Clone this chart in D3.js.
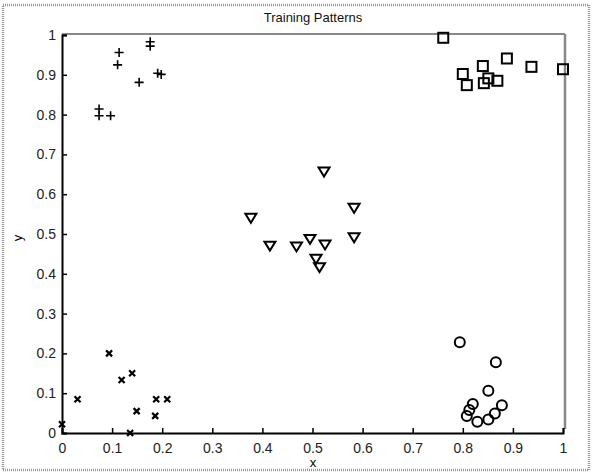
<!DOCTYPE html>
<html><head><meta charset="utf-8">
<script src="https://cdn.jsdelivr.net/npm/d3@7"></script>
<style>body{margin:0;background:#fff}svg{display:block}</style>
</head><body>
<script>
const title = "Training Patterns";
const xTicks = [0,0.1,0.2,0.3,0.4,0.5,0.6,0.7,0.8,0.9,1];
const yTicks = [0,0.1,0.2,0.3,0.4,0.5,0.6,0.7,0.8,0.9,1];
const plusX = [0.074,0.074,0.097,0.114,0.111,0.154,0.176,0.176,0.191,0.198];
const plusY = [0.814,0.797,0.797,0.956,0.925,0.881,0.983,0.972,0.904,0.901];
const squareX = [0.761,0.800,0.808,0.840,0.842,0.851,0.869,0.888,0.937,1.0];
const squareY = [0.993,0.902,0.874,0.922,0.879,0.891,0.885,0.941,0.920,0.914];
const triX = [0.523,0.583,0.377,0.583,0.495,0.415,0.468,0.525,0.507,0.514];
const triY = [0.658,0.567,0.542,0.493,0.489,0.472,0.470,0.475,0.439,0.418];
const crossX = [0.094,0.031,0.119,0.140,0.149,0.186,0.188,0.210,0.0,0.136];
const crossY = [0.200,0.085,0.133,0.150,0.055,0.043,0.085,0.085,0.022,0.0];
const circleX = [0.794,0.866,0.851,0.820,0.813,0.808,0.829,0.851,0.864,0.878];
const circleY = [0.228,0.178,0.106,0.073,0.058,0.043,0.028,0.034,0.049,0.070];

const W=592,H=473;
const svg=d3.select("body").append("svg").attr("width",W).attr("height",H)
  .style("font-family","'Liberation Sans', Arial, sans-serif");
// outer figure frame
svg.append("rect").attr("x",3).attr("y",5).attr("width",586).attr("height",465)
  .attr("fill","#fff").attr("stroke","#999").attr("stroke-width",2.5).attr("stroke-dasharray","1,1");

const x=d3.scaleLinear().domain([0,1]).range([62,563]);
const y=d3.scaleLinear().domain([0,1]).range([433,35]);

// top/right box lines (gray)
svg.append("line").attr("x1",x(0)).attr("x2",x(1)+2).attr("y1",y(1)-1).attr("y2",y(1)-1)
  .attr("stroke","#888").attr("stroke-width",2);
svg.append("line").attr("x1",x(1)+2).attr("x2",x(1)+2).attr("y1",y(1)-1).attr("y2",y(0)-4)
  .attr("stroke","#888").attr("stroke-width",2.5);

const xa=svg.append("g").attr("transform",`translate(0,${y(0)})`)
  .call(d3.axisBottom(x).tickValues(xTicks).tickSize(-5).tickPadding(10).tickFormat(d3.format("~g")));
const ya=svg.append("g").attr("transform",`translate(${x(0)},0)`)
  .call(d3.axisLeft(y).tickValues(yTicks).tickSize(-5).tickPadding(8).tickFormat(d3.format("~g")));
[xa,ya].forEach(g=>{
  g.select(".domain").attr("stroke","#000").attr("stroke-width",2);
  g.selectAll(".tick line").attr("stroke","#000").attr("stroke-width",1.5);
  g.selectAll(".tick text").attr("fill","#222").style("font-size","14px").style("font-family","'Liberation Sans', Arial, sans-serif");
});
ya.selectAll(".tick text").attr("dx","2px");

svg.append("text").attr("x",313).attr("y",22).attr("text-anchor","middle")
  .style("font-size","13px").attr("fill","#111").text(title);
svg.append("text").attr("x",313).attr("y",467).attr("text-anchor","middle")
  .style("font-size","13px").text("x");
svg.append("text").attr("transform","translate(22,238) rotate(-90)").attr("text-anchor","middle")
  .style("font-size","13px").text("y");

const mk=svg.append("g").attr("fill","none").attr("stroke","#000").attr("stroke-width",2);
plusX.forEach((v,i)=>{
  const cx=x(v),cy=y(plusY[i]);
  mk.append("path").attr("d",`M${cx-4.5},${cy}H${cx+4.5}M${cx},${cy-4.5}V${cy+4.5}`).attr("stroke-width",1.6);
});
squareX.forEach((v,i)=>{
  mk.append("rect").attr("x",x(v)-5).attr("y",y(squareY[i])-5).attr("width",10).attr("height",10);
});
triX.forEach((v,i)=>{
  const cx=x(v),cy=y(triY[i]);
  mk.append("path").attr("d",`M${cx-5.5},${cy-3.5}L${cx+5.5},${cy-3.5}L${cx},${cy+5.5}Z`);
});
crossX.forEach((v,i)=>{
  const cx=x(v),cy=y(crossY[i]);
  mk.append("path").attr("d",`M${cx-3},${cy-3}L${cx+3},${cy+3}M${cx-3},${cy+3}L${cx+3},${cy-3}`).attr("stroke-width",2.2);
});
circleX.forEach((v,i)=>{
  mk.append("circle").attr("cx",x(v)).attr("cy",y(circleY[i])).attr("r",5);
});
</script>
</body></html>
